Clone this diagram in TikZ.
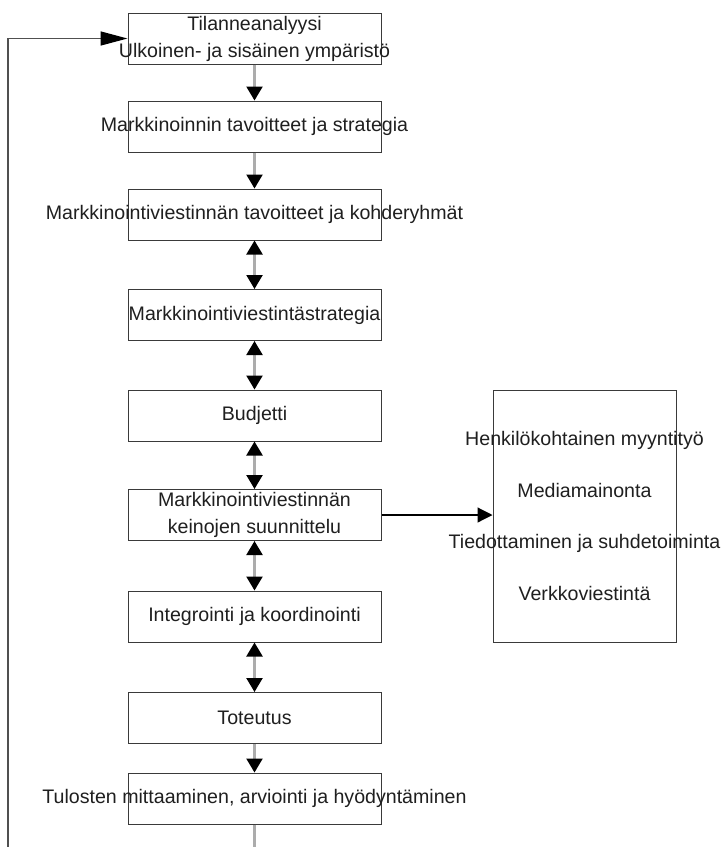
\documentclass[tikz,border=0pt]{standalone}
\usepackage{fontspec}
\setmainfont{Liberation Sans}
\usetikzlibrary{arrows.meta}
\definecolor{connc}{HTML}{ACACAC}
\definecolor{edgec}{HTML}{3A3A3A}
\definecolor{loopc}{HTML}{505050}
\begin{document}
\begin{tikzpicture}[x=1pt,y=-1pt,
  box/.style={draw=edgec, line width=1pt, minimum width=253pt, minimum height=51pt, inner sep=0pt},
  txt/.style={font=\fontsize{19.6}{27}\selectfont, align=center, inner sep=0pt, text=black!88},
  conn/.style={draw=connc, line width=2.2pt},
  tipA/.style={-{Triangle[length=14pt,width=16pt,color=black]}},
  dbl/.style={{Triangle[length=14pt,width=16pt,color=black]}-{Triangle[length=14pt,width=16pt,color=black]}}
]
\fill[white] (0,0) rectangle (724,847);
\useasboundingbox (0,0) rectangle (724,847);

\node[box, label={[txt]center:Tilanneanalyysi\\Ulkoinen- ja sisäinen ympäristö}] (b1) at (254.5,38.5) {};
\node[box, label={[txt]center:Markkinoinnin tavoitteet ja strategia}] (b2) at (254.5,126.5) {};
\node[box, label={[txt]center:Markkinointiviestinnän tavoitteet ja kohderyhmät}] (b3) at (254.5,214.5) {};
\node[box, label={[txt]center:Markkinointiviestintästrategia}] (b4) at (254.5,315) {};
\node[box, label={[txt]center:Budjetti}] (b5) at (254.5,415.5) {};
\node[box, label={[txt]center:Markkinointiviestinnän\\keinojen suunnittelu}] (b6) at (254.5,515) {};
\node[box, label={[txt]center:Integrointi ja koordinointi}] (b7) at (254.5,616.5) {};
\node[box, label={[txt]center:Toteutus}] (b8) at (254.5,718) {};
\node[box, label={[txt]center:Tulosten mittaaminen, arviointi ja hyödyntäminen}] (b9) at (254.5,798.5) {};

\node[box, minimum width=183pt, minimum height=252pt,
  label={[txt, font=\fontsize{19.6}{51.5}\selectfont]center:Henkilökohtainen myyntityö\\Mediamainonta\\Tiedottaminen ja suhdetoiminta\\Verkkoviestintä}] (r) at (584.5,516) {};

\draw[conn, tipA] (b1.south) -- (b2.north);
\draw[conn, tipA] (b2.south) -- (b3.north);
\draw[conn, dbl] (b3.south) -- (b4.north);
\draw[conn, dbl] (b4.south) -- (b5.north);
\draw[conn, dbl] (b5.south) -- (b6.north);
\draw[conn, dbl] (b6.south) -- (b7.north);
\draw[conn, dbl] (b7.south) -- (b8.north);
\draw[conn, tipA] (b8.south) -- (b9.north);

\coordinate (bend) at (254.5,847);
\coordinate (lb) at (8,847);
\coordinate (lt) at (8,38.5);
\draw[conn] (b9.south) -- (bend);
\draw[draw=loopc, line width=1.5pt, -{Triangle[length=27pt,width=14pt,color=black]}] (lb) -- (lt) -- (b1.west);

\draw[black, line width=1.2pt, -{Triangle[length=15pt,width=15pt]}] (b6.east) -- (b6.east -| r.west);
\end{tikzpicture}
\end{document}
